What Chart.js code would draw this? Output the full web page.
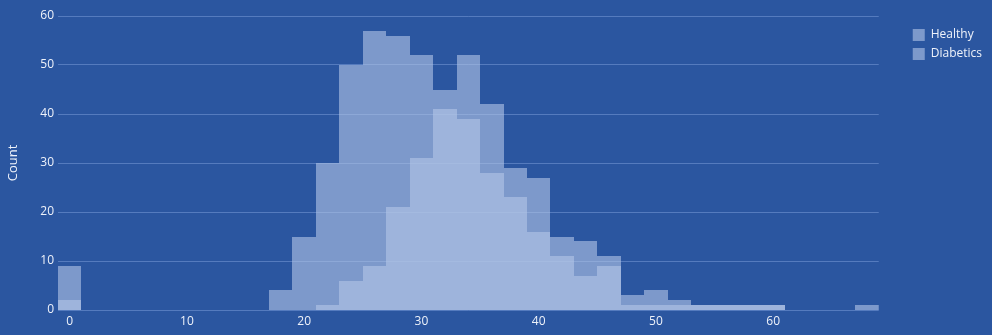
<!DOCTYPE html>
<html>
<head>
<meta charset="utf-8">
<script src="https://cdn.jsdelivr.net/npm/chart.js@4"></script>
<style>
  html, body { margin: 0; padding: 0; background: #2b56a0; }
  #wrap { width: 992px; height: 335px; }
</style>
</head>
<body>
<div id="wrap"><canvas id="grafico" width="992" height="335"></canvas></div>
<script>
// bins de largura 2, centros em 0, 2, ... 68
const binCenters = [0,2,4,6,8,10,12,14,16,18,20,22,24,26,28,30,32,34,36,38,40,42,44,46,48,50,52,54,56,58,60,62,64,66,68];
const healthy   = [9,0,0,0,0,0,0,0,0,4,15,30,50,57,56,52,45,52,42,29,27,11,7,9,3,1,1,1,1,1,1,0,0,0,0];
const diabetics = [2,0,0,0,0,0,0,0,0,0,0,1,6,9,21,31,41,39,28,23,16,15,14,11,1,4,2,1,1,1,1,0,0,0,1];
const xTicks = [0,10,20,30,40,50,60];

const corBarra = 'rgba(180,198,232,0.6)';
const corTexto = '#eef2fa';
const corGrade = 'rgba(120,155,215,0.55)';

Chart.defaults.font.family = '"Open Sans", "DejaVu Sans", sans-serif';
Chart.defaults.font.size = 12;
Chart.defaults.color = corTexto;

function pontos(vals) {
    return binCenters.map((c, i) => ({ x: c, y: vals[i] }));
}

// arredonda as bordas das barras pro pixel inteiro (evita as linhas entre barras)
const snapBarras = {
    id: 'snapBarras',
    beforeDatasetsDraw(chart) {
        chart.data.datasets.forEach((ds, i) => {
            chart.getDatasetMeta(i).data.forEach(el => {
                const esq = Math.round(el.x - el.width / 2);
                const dir = Math.round(el.x + el.width / 2);
                el.x = (esq + dir) / 2;
                el.width = dir - esq;
                el.y = Math.round(el.y);
                el.base = Math.round(el.base);
            });
        });
    }
};

new Chart(document.getElementById('grafico'), {
    type: 'bar',
    data: {
        datasets: [{
            label: 'Healthy',
            data: pontos(healthy),
            backgroundColor: corBarra,
            grouped: false,
            inflateAmount: 0,
            barPercentage: 1,
            categoryPercentage: 1
        }, {
            label: 'Diabetics',
            data: pontos(diabetics),
            backgroundColor: corBarra,
            grouped: false,
            inflateAmount: 0,
            barPercentage: 1,
            categoryPercentage: 1
        }]
    },
    options: {
        responsive: false,
        animation: false,
        layout: { padding: { top: 16, left: 0, right: 0, bottom: 0 } },
        plugins: {
            legend: {
                position: 'right',
                align: 'start',
                title: { display: true, text: ' ', padding: 0, font: { size: 5 } },
                labels: { boxWidth: 12, boxHeight: 12, padding: 7, color: corTexto }
            },
            tooltip: { enabled: false }
        },
        scales: {
            x: {
                type: 'linear',
                offset: false,
                min: -1,
                max: 69,
                grid: { display: false, drawTicks: false },
                border: { display: false },
                ticks: { color: corTexto, padding: 4, maxRotation: 0 },
                afterBuildTicks: s => { s.ticks = xTicks.map(v => ({ value: v })); },
                afterFit: s => { s.height = 25; }
            },
            y: {
                min: 0,
                max: 60,
                ticks: { stepSize: 10, color: corTexto, padding: 4 },
                grid: { color: corGrade, lineWidth: 1, drawTicks: false },
                border: { display: false },
                title: { display: true, text: 'Count', color: corTexto, font: { size: 13 }, padding: { top: 5, bottom: 0 } },
                afterFit: s => { s.width = 58; }
            },
            y2: {
                position: 'right',
                display: true,
                grid: { display: false },
                border: { display: false },
                ticks: { display: false },
                afterFit: s => { s.width = 27; }
            }
        }
    },
    plugins: [snapBarras]
});
</script>
</body>
</html>
